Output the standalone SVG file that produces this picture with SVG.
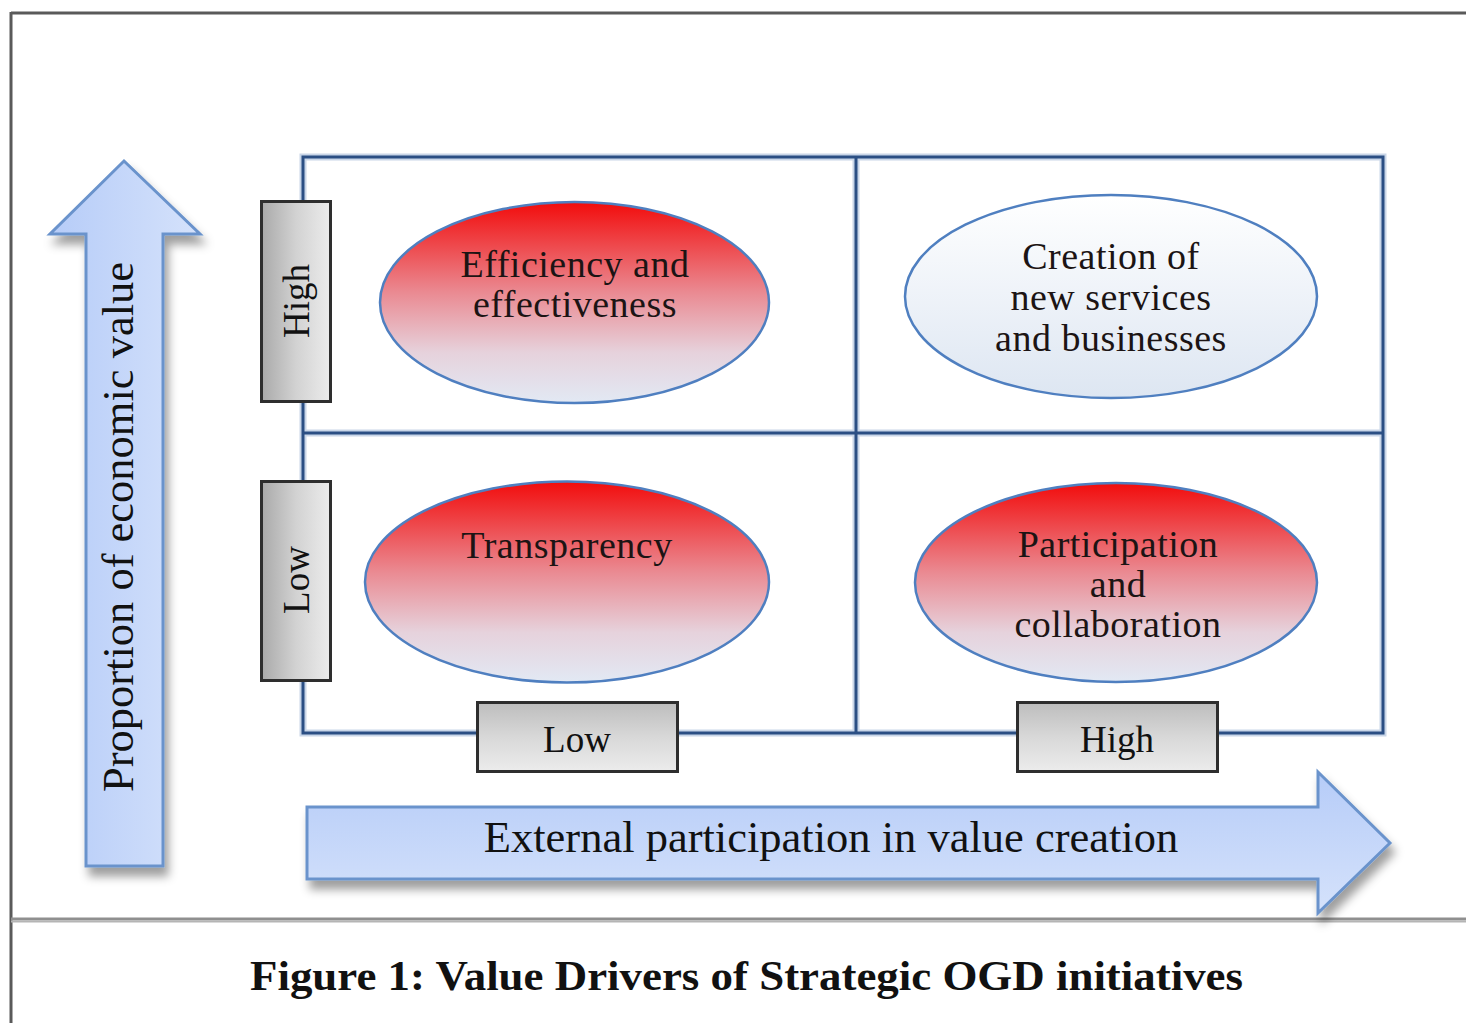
<svg xmlns="http://www.w3.org/2000/svg" width="1466" height="1023" viewBox="0 0 1466 1023">
<defs>
<style>
.serif{font-family:"Liberation Serif","Times New Roman",serif;fill:#111}
.lbl{font-size:37px;text-anchor:middle}
.ell{font-size:38px;text-anchor:middle;fill:#1c1414;letter-spacing:0.5px}
.axis{font-size:44.5px;text-anchor:middle}
.grid{fill:none;stroke:#2b4f84;stroke-width:3}
.gridhalo{fill:none;stroke:#c9d6e8;stroke-width:7}
.ellipse{stroke:#4f7fc0;stroke-width:2.5}
.box{stroke:#2e2e2e;stroke-width:3}
.arrow{stroke:#6a93cc;stroke-width:3;stroke-linejoin:miter}
</style>
<linearGradient id="redG" x1="0" y1="0" x2="0" y2="1">
<stop offset="0" stop-color="#f20c0c"/>
<stop offset="0.45" stop-color="#ea8a92"/>
<stop offset="0.75" stop-color="#e6d2dc"/>
<stop offset="1" stop-color="#e2e9f4"/>
</linearGradient>
<linearGradient id="whiteG" x1="0" y1="0" x2="0" y2="1">
<stop offset="0" stop-color="#ffffff"/>
<stop offset="1" stop-color="#dde6f2"/>
</linearGradient>
<linearGradient id="greyV" x1="0" y1="0" x2="1" y2="0">
<stop offset="0" stop-color="#a9a9a9"/>
<stop offset="0.5" stop-color="#d2d2d2"/>
<stop offset="1" stop-color="#ececec"/>
</linearGradient>
<linearGradient id="greyH" x1="0" y1="0" x2="0" y2="1">
<stop offset="0" stop-color="#bdbdbd"/>
<stop offset="0.5" stop-color="#d8d8d8"/>
<stop offset="1" stop-color="#ececec"/>
</linearGradient>
<linearGradient id="blueV" x1="0" y1="0" x2="1" y2="0">
<stop offset="0" stop-color="#b6ccf8"/>
<stop offset="1" stop-color="#d5e2fb"/>
</linearGradient>
<linearGradient id="blueH" x1="0" y1="0" x2="0" y2="1">
<stop offset="0" stop-color="#b6ccf8"/>
<stop offset="1" stop-color="#d5e2fb"/>
</linearGradient>
<filter id="shadow" x="-20%" y="-20%" width="150%" height="150%">
<feDropShadow dx="4" dy="9" stdDeviation="5" flood-color="#000" flood-opacity="0.38"/>
</filter>
</defs>
<rect width="1466" height="1023" fill="#fff"/>
<g id="frame">
<line x1="11" y1="13" x2="1466" y2="13" stroke="#5a5a5a" stroke-width="3"/>
<line x1="11" y1="12" x2="11" y2="1023" stroke="#5a5a5a" stroke-width="3"/>
<line x1="11" y1="919" x2="1466" y2="919" stroke="#8f8f8f" stroke-width="3"/>
<line x1="11" y1="921.5" x2="1466" y2="921.5" stroke="#b5b5b5" stroke-width="2"/>
</g>
<g id="connectors">
<rect class="gridhalo" x="303" y="157" width="1080" height="576"/>
<line class="gridhalo" x1="856" y1="157" x2="856" y2="733"/>
<line class="gridhalo" x1="303" y1="433" x2="1383" y2="433"/>
<rect class="grid" x="303" y="157" width="1080" height="576"/>
<line class="grid" x1="856" y1="157" x2="856" y2="733"/>
<line class="grid" x1="303" y1="433" x2="1383" y2="433"/>
</g>
<g id="y-axis-arrow">
<polygon class="arrow" fill="url(#blueV)" filter="url(#shadow)" points="124,161 200,234 163,234 163,866 86,866 86,234 50,234"/>
<text class="serif axis" transform="translate(133,527) rotate(-90)">Proportion of economic value</text>
</g>
<g id="x-axis-arrow">
<polygon class="arrow" fill="url(#blueH)" filter="url(#shadow)" points="307,807 1318,807 1318,772 1390,843 1318,913 1318,879 307,879"/>
<text class="serif axis" x="831" y="852">External participation in value creation</text>
</g>
<g id="y-high">
<rect class="box" fill="url(#greyV)" x="261.5" y="201.5" width="69" height="200"/>
<text class="serif lbl" transform="translate(309,301) rotate(-90)">High</text>
</g>
<g id="y-low">
<rect class="box" fill="url(#greyV)" x="261.5" y="481.5" width="69" height="199"/>
<text class="serif lbl" transform="translate(309,580) rotate(-90)">Low</text>
</g>
<g id="x-low">
<rect class="box" fill="url(#greyH)" x="477.5" y="702.5" width="200" height="69"/>
<text class="serif lbl" x="577" y="752">Low</text>
</g>
<g id="x-high">
<rect class="box" fill="url(#greyH)" x="1017.5" y="702.5" width="200" height="69"/>
<text class="serif lbl" x="1117" y="752">High</text>
</g>
<g id="efficiency">
<ellipse class="ellipse" fill="url(#redG)" cx="574.5" cy="302.5" rx="194.5" ry="100.5"/>
<text class="serif ell" x="575" y="277">Efficiency and</text>
<text class="serif ell" x="575" y="317">effectiveness</text>
</g>
<g id="creation">
<ellipse class="ellipse" fill="url(#whiteG)" cx="1111" cy="296.5" rx="206" ry="101.5"/>
<text class="serif ell" x="1111" y="269">Creation of</text>
<text class="serif ell" x="1111" y="310">new services</text>
<text class="serif ell" x="1111" y="351">and businesses</text>
</g>
<g id="transparency">
<ellipse class="ellipse" fill="url(#redG)" cx="567" cy="582" rx="202" ry="100.5"/>
<text class="serif ell" x="567" y="558">Transparency</text>
</g>
<g id="participation">
<ellipse class="ellipse" fill="url(#redG)" cx="1116" cy="582.5" rx="201" ry="99.5"/>
<text class="serif ell" x="1118" y="557">Participation</text>
<text class="serif ell" x="1118" y="597">and</text>
<text class="serif ell" x="1118" y="637">collaboration</text>
</g>
<g id="caption">
<text class="serif" x="250" y="990" font-size="42" font-weight="bold" textLength="993" lengthAdjust="spacingAndGlyphs">Figure 1: Value Drivers of Strategic OGD initiatives</text>
</g>
</svg>
